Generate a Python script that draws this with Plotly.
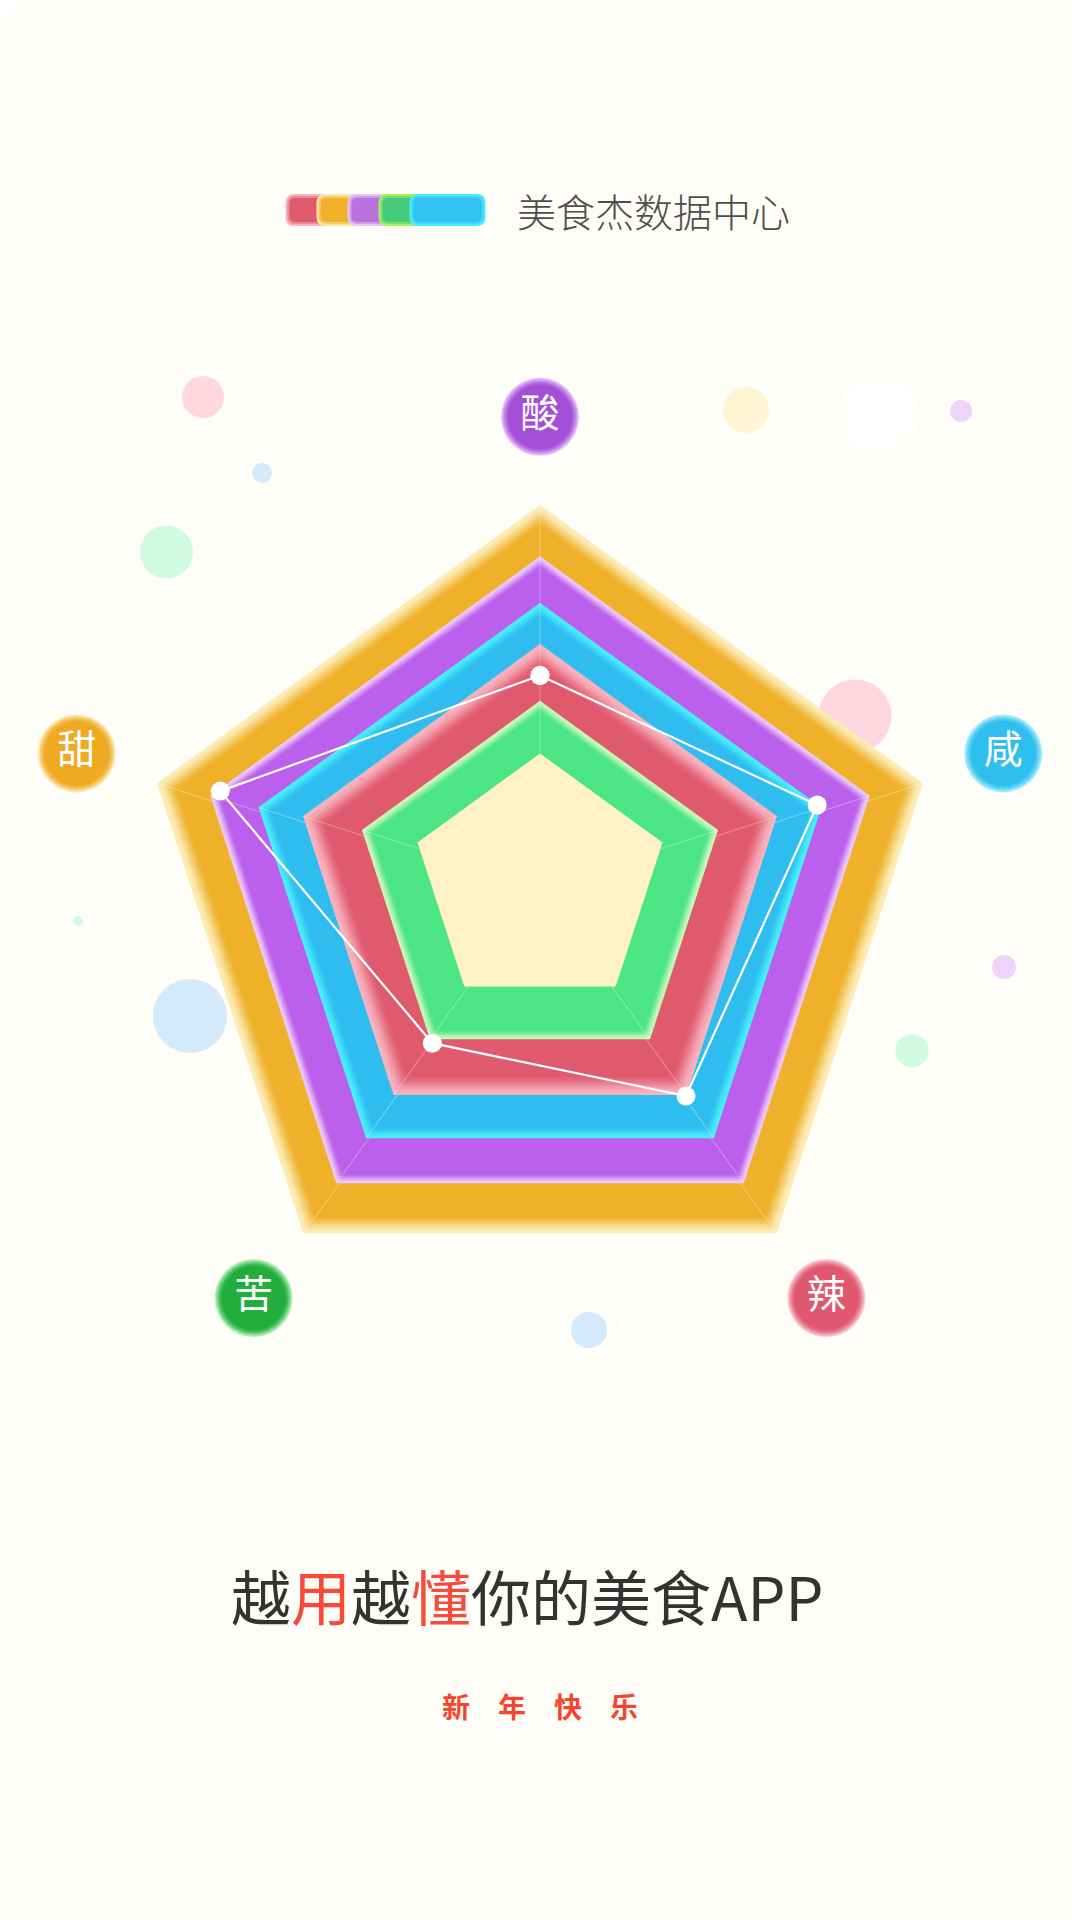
import plotly.graph_objects as go

# ---------------- data ----------------
indicators = ["酸", "甜", "苦", "辣", "咸"]
taste_scores = [54.5, 83.5, 45.5, 61.7, 72.4]

ring_names = ["甜", "酸", "咸", "辣", "苦", "中心"]
ring_levels = [100, 86.1, 73.5, 61.9, 46.5, 32.0]

legend_names = ["辣", "甜", "酸", "苦", "咸"]
header_text = "美食杰数据中心"
slogan_parts = ["越", "用", "越", "懂", "你的美食APP"]
slogan_highlight = [False, True, False, True, False]
greeting_chars = ["新", "年", "快", "乐"]

bubble_x = [203, 262, 166.5, 746, 879, 961, 855, 78, 190, 1004, 912, 589, 629]
bubble_y = [397, 473, 552, 410, 415, 411, 716, 921, 1016, 967, 1051, 1330, 1322]
bubble_d = [42, 20, 53, 46, 80, 22, 73, 10, 74, 24, 33, 36, 20]
bubble_kind = ["pink", "blue", "mint", "yellow", "white", "lavender", "pink",
               "mint", "blue", "lavender", "mint", "blue", "white"]

# ---------------- styles / layout ----------------
W, H = 1080, 1920          # page size in reference pixels
OFF = 8                    # the page body margin places the figure at (8, 8)
FW, FH = W - OFF, H - OFF  # figure size so it ends exactly at the window edge
CX = 540
SCALE = 4.026              # px per radial unit
BG = "#fefdf7"
FONT = "Noto Sans CJK SC"

ring_cy = [907.6, 902.8, 898.8, 893.3, 887.9, 882.3]
ring_glow_px = [22, 12, 14, 24, 12, 0]
ring_core = ["#efb02a", "#ba60ec", "#2fbdf0", "#e05a6e", "#4be585", "#fef2c6"]
ring_edge = ["#fbedb6", "#eccafa", "#4aeffa", "#f7b3bf", "#c8f8ba", "#fef2c6"]

DATA_CY = 895
LABEL_CY = 904
LABEL_R = 121

label_core = {"酸": "#a54fd8", "甜": "#eeaa22", "苦": "#23ad3c", "辣": "#e05870", "咸": "#2ebfee"}
label_edge = {"酸": "#e6c0f6", "甜": "#fbe8b4", "苦": "#b4f0bc", "辣": "#f8c6ce", "咸": "#a8ecfb"}

legend_core = {"辣": "#e05a6e", "甜": "#f0b02a", "酸": "#b874dc", "苦": "#45c97a", "咸": "#33c1f0"}
legend_edge = {"辣": "#f6b6c0", "甜": "#fce6a8", "酸": "#e6c6f6", "苦": "#a8f25a", "咸": "#48ecfa"}

bubble_palette = {"pink": "#ffc6d5", "blue": "#c0e0fe", "mint": "#bdf9d7",
                  "yellow": "#fef1c4", "white": "#ffffff", "lavender": "#e7c3f7"}


def hex2rgb(h):
    h = h.lstrip("#")
    return tuple(int(h[i:i + 2], 16) for i in (0, 2, 4))


def mix(c1, c2, t):
    a, b = hex2rgb(c1), hex2rgb(c2)
    return "rgb(%d,%d,%d)" % tuple(round(a[i] + (b[i] - a[i]) * t) for i in range(3))


def polar_layout(cy, rmax):
    rpx = rmax * SCALE
    cxf, cyf = CX - OFF, cy - OFF
    return dict(
        domain=dict(x=[(cxf - rpx) / FW, (cxf + rpx) / FW],
                    y=[(FH - cyf - rpx) / FH, (FH - cyf + rpx) / FH]),
        bgcolor="rgba(0,0,0,0)",
        radialaxis=dict(range=[0, rmax], visible=False, showgrid=False,
                        showline=False, showticklabels=False, ticks=""),
        angularaxis=dict(type="category", categoryorder="array",
                         categoryarray=indicators, rotation=90,
                         direction="counterclockwise", visible=False,
                         showgrid=False, showline=False,
                         showticklabels=False, ticks=""),
    )


fig = go.Figure()

# decorative bubbles (cartesian, drawn beneath the polar layers)
fig.add_trace(go.Scatter(
    x=bubble_x, y=bubble_y, mode="markers", hoverinfo="skip",
    marker=dict(size=bubble_d, color=[bubble_palette[k] for k in bubble_kind],
                line=dict(width=0)),
    xaxis="x", yaxis="y"))

closed_theta = indicators + [indicators[0]]
layout_polars = {}

# split-area rings, each its own polar subplot
for k, (name, lvl) in enumerate(zip(ring_names, ring_levels)):
    pid = "polar" if k == 0 else "polar%d" % (k + 1)
    layout_polars[pid] = polar_layout(ring_cy[k], lvl)
    glow = ring_glow_px[k] / SCALE
    n = 12 if glow > 0 else 0
    for j in range(n + 1):
        t = j / n if n else 1.0
        e = t * t * (3 - 2 * t)
        col = mix(ring_edge[k], ring_core[k], e)
        r = lvl - glow * t
        fig.add_trace(go.Scatterpolar(
            r=[r] * 6, theta=closed_theta, mode="lines", fill="toself",
            fillcolor=col, line=dict(width=0, color=col), subplot=pid,
            hoverinfo="skip", cliponaxis=False, name=name))
    if k < len(ring_levels) - 1:
        rs, ts = [], []
        for c in indicators:
            rs += [0, lvl, None]
            ts += [c, c, None]
        fig.add_trace(go.Scatterpolar(
            r=rs, theta=ts, mode="lines", subplot=pid, hoverinfo="skip",
            line=dict(color="rgba(255,255,255,0.28)", width=1.2),
            cliponaxis=False))

# data series
layout_polars["polar7"] = polar_layout(DATA_CY, 100)
fig.add_trace(go.Scatterpolar(
    r=taste_scores + [taste_scores[0]], theta=closed_theta,
    mode="lines+markers", subplot="polar7", cliponaxis=False,
    line=dict(color="#ffffff", width=2.2),
    marker=dict(size=19, color="#ffffff", line=dict(width=0)),
    name="口味"))

# indicator name bubbles with soft edge
layout_polars["polar8"] = polar_layout(LABEL_CY, LABEL_R)
glow_layers = [(78, 0.0), (75, 0.3), (72, 0.55), (69, 0.8), (65, 1.0)]
for size, t in glow_layers:
    fig.add_trace(go.Scatterpolar(
        r=[LABEL_R] * len(indicators), theta=indicators, mode="markers",
        subplot="polar8", cliponaxis=False, hoverinfo="skip",
        marker=dict(size=size,
                    color=[mix(label_edge[c], label_core[c], t) for c in indicators],
                    line=dict(width=0))))
fig.add_trace(go.Scatterpolar(
    r=[LABEL_R] * len(indicators), theta=indicators, mode="text",
    text=indicators, textposition="middle center", subplot="polar8",
    cliponaxis=False, hoverinfo="skip",
    textfont=dict(family=FONT, size=39, color="#ffffff")))


# legend icons (rounded rects)
def rrect(x0, y0, x1, y1, r):
    return ("M{a},{y0} L{b},{y0} Q{x1},{y0} {x1},{c} L{x1},{d} Q{x1},{y1} {b},{y1} "
            "L{a},{y1} Q{x0},{y1} {x0},{d} L{x0},{c} Q{x0},{y0} {a},{y0} Z").format(
        a=x0 + r, b=x1 - r, c=y0 + r, d=y1 - r, x0=x0, x1=x1, y0=y0, y1=y1)


shapes = []
for i, nm in enumerate(legend_names):
    x0 = 285.5 + 31 * i
    x1 = x0 + 76
    y0, y1 = 194, 226
    for inset, t in [(0, 0.0), (2, 0.5), (4, 1.0)]:
        col = mix(legend_edge[nm], legend_core[nm], t)
        shapes.append(dict(type="path", xref="x", yref="y",
                           path=rrect(x0 + inset, y0 + inset, x1 - inset, y1 - inset, 9 - inset * 0.8),
                           fillcolor=col, line=dict(width=0)))

slogan = "".join(
    "<span style='color:#f64a3a'>%s</span>" % p if h else p
    for p, h in zip(slogan_parts, slogan_highlight))

annotations = [
    dict(text=header_text, x=515, y=210, xref="x", yref="y", xanchor="left",
         yanchor="middle", showarrow=False,
         font=dict(family="Noto Sans CJK SC Light, " + FONT, size=39,
                   color="#4d4d4d", weight=300)),
    dict(text=slogan, x=527, y=1594, xref="x", yref="y", xanchor="center",
         yanchor="middle", showarrow=False,
         font=dict(family=FONT, size=60, color="#333333")),
    dict(text="<b>" + "　".join(greeting_chars) + "</b>", x=539.5, y=1706,
         xref="x", yref="y", xanchor="center", yanchor="middle", showarrow=False,
         font=dict(family=FONT, size=28, color="#f5452f")),
]

fig.update_layout(
    width=FW, height=FH, margin=dict(l=0, r=0, t=0, b=0),
    paper_bgcolor=BG, plot_bgcolor="rgba(0,0,0,0)", showlegend=False,
    xaxis=dict(range=[OFF, W], domain=[0, 1], visible=False, fixedrange=True),
    yaxis=dict(range=[H, OFF], domain=[0, 1], visible=False, fixedrange=True),
    shapes=shapes, annotations=annotations,
    **layout_polars,
)

fig.write_html("out.html")
